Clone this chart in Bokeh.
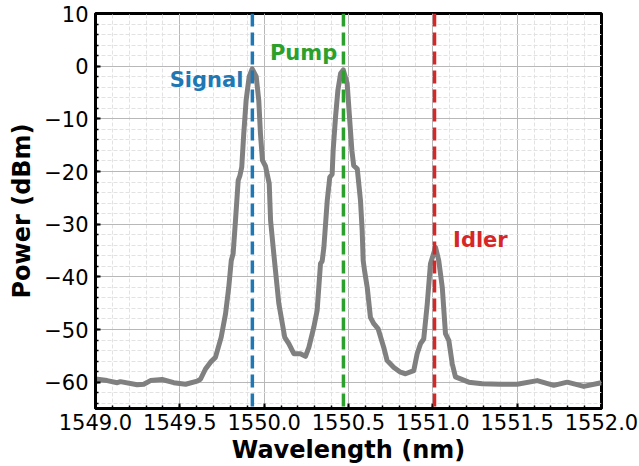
from bokeh.plotting import figure
from bokeh.models import Range1d, SingleIntervalTicker, Span, Label
from bokeh.embed import file_html
from bokeh.resources import INLINE

# ---- data ----
wavelength = [
    1549.000, 1549.069, 1549.129, 1549.148, 1549.247, 1549.286, 1549.326, 1549.395,
    1549.464, 1549.534, 1549.603, 1549.623, 1549.652, 1549.682, 1549.711, 1549.745,
    1549.771, 1549.790, 1549.805, 1549.816, 1549.830, 1549.846, 1549.856, 1549.867,
    1549.879, 1549.893, 1549.911, 1549.929, 1549.953, 1549.968, 1549.978, 1549.990,
    1550.008, 1550.030, 1550.038, 1550.057, 1550.067, 1550.087, 1550.122, 1550.146,
    1550.176, 1550.215, 1550.245, 1550.265, 1550.294, 1550.314, 1550.334, 1550.344,
    1550.354, 1550.374, 1550.389, 1550.403, 1550.409, 1550.423, 1550.437, 1550.453,
    1550.469, 1550.492, 1550.506, 1550.520, 1550.531, 1550.552, 1550.571, 1550.581,
    1550.587, 1550.595, 1550.611, 1550.630, 1550.650, 1550.676, 1550.709, 1550.729,
    1550.769, 1550.808, 1550.838, 1550.887, 1550.907, 1550.927, 1550.946, 1550.967,
    1550.986, 1551.016, 1551.035, 1551.056, 1551.075, 1551.095, 1551.115, 1551.134,
    1551.213, 1551.293, 1551.401, 1551.500, 1551.619, 1551.717, 1551.797, 1551.895,
    1551.984, 1552.000,
]
power_dbm = [
    -59.4, -59.7, -60.1, -59.9, -60.5, -60.4, -59.7, -59.5,
    -60.1, -60.4, -59.8, -59.4, -57.5, -56.2, -55.3, -51.5,
    -47.0, -42.0, -36.9, -35.6, -29.3, -21.7, -20.8, -19.2,
    -12.8, -6.5, -2.0, -0.5, -2.0, -6.5, -12.8, -17.9,
    -19.0, -22.3, -29.3, -35.6, -38.8, -45.1, -51.5, -52.7,
    -54.6, -54.6, -55.1, -53.4, -49.6, -46.4, -37.5, -37.0,
    -34.4, -25.5, -21.1, -20.5, -16.0, -9.7, -4.6, -1.4,
    -0.7, -3.3, -9.7, -16.0, -18.9, -19.5, -25.5, -31.2,
    -36.9, -38.8, -42.0, -47.7, -48.9, -49.9, -53.4, -55.9,
    -57.2, -58.1, -58.4, -57.8, -54.6, -52.7, -51.8, -45.1,
    -37.5, -34.4, -36.9, -42.0, -50.8, -52.1, -56.5, -59.0,
    -60.0, -60.3, -60.4, -60.4, -59.7, -60.6, -60.0, -60.8,
    -60.2, -60.1,
]

marker_names = ["Signal", "Pump", "Idler"]
marker_wavelengths = [1549.93, 1550.47, 1551.01]
marker_colors = ["#1f77b4", "#2ca02c", "#d62728"]

x_tick_values = [1549.0, 1549.5, 1550.0, 1550.5, 1551.0, 1551.5, 1552.0]
x_tick_labels = ["1549.0", "1549.5", "1550.0", "1550.5", "1551.0", "1551.5", "1552.0"]
y_tick_values = [10, 0, -10, -20, -30, -40, -50, -60]
y_tick_labels = ["10", "0", "\u221210", "\u221220", "\u221230", "\u221240", "\u221250", "\u221260"]

x_label = "Wavelength (nm)"
y_label = "Power (dBm)"

X_MIN, X_MAX = 1549.0, 1552.0
Y_MIN, Y_MAX = -65, 10

FONT = "DejaVu Sans"

p = figure(
    width=639, height=466,
    output_backend="svg", toolbar_location=None,
    x_range=Range1d(X_MIN, X_MAX), y_range=Range1d(Y_MIN, Y_MAX),
    min_border_left=95, min_border_right=38, min_border_top=13, min_border_bottom=58,
    background_fill_color="white", border_fill_color="white",
)

# grids
for g in (p.xgrid, p.ygrid):
    g.grid_line_color = "#b8b8b8"
    g.grid_line_width = 1
    g.minor_grid_line_color = "#e2e2e2"
    g.minor_grid_line_width = 1
    g.minor_grid_line_dash = "4 2"

p.xaxis.ticker = SingleIntervalTicker(interval=0.5, num_minor_ticks=5)
p.yaxis.ticker = SingleIntervalTicker(interval=10, num_minor_ticks=5)
p.xgrid.ticker = p.xaxis.ticker
p.ygrid.ticker = p.yaxis.ticker

p.xaxis.major_label_overrides = dict(zip(x_tick_values, x_tick_labels))
p.yaxis.major_label_overrides = dict(zip(y_tick_values, y_tick_labels))

for ax in (p.xaxis, p.yaxis):
    ax.axis_line_color = "black"
    ax.axis_line_width = 3
    ax.major_tick_in = 5
    ax.major_tick_out = 0
    ax.minor_tick_in = 3
    ax.minor_tick_out = 0
    ax.major_tick_line_width = 2
    ax.minor_tick_line_width = 1.5
    ax.major_tick_line_color = "black"
    ax.minor_tick_line_color = "black"
    ax.major_label_text_font = FONT
    ax.major_label_text_font_size = "21px"
    ax.major_label_text_color = "black"
    ax.axis_label_text_font = FONT
    ax.axis_label_text_font_size = "24px"
    ax.axis_label_text_font_style = "bold"
    ax.axis_label_text_color = "black"

p.xaxis.axis_label = x_label
p.yaxis.axis_label = y_label
p.xaxis.major_label_standoff = 5
p.xaxis.axis_label_standoff = 3
p.yaxis.major_label_standoff = 7
p.yaxis.axis_label_standoff = 5

p.outline_line_color = "black"
p.outline_line_width = 3
p.outline_line_alpha = 1

# spectrum
p.line(wavelength, power_dbm, line_color="#808080", line_width=5, line_join="round")

# marker lines
for wl, col in zip(marker_wavelengths, marker_colors):
    p.add_layout(Span(location=wl, dimension="height", line_color=col,
                      line_width=3.5, line_dash="13 6"))

# marker labels
label_specs = [
    (marker_wavelengths[0] - 0.053, -2.6, "right"),
    (marker_wavelengths[1] - 0.037, 2.5, "right"),
    (marker_wavelengths[2] + 0.11, -33.0, "left"),
]
for name, col, (lx, ly, align) in zip(marker_names, marker_colors, label_specs):
    p.add_layout(Label(x=lx, y=ly, text=name, text_color=col, text_align=align,
                       text_baseline="alphabetic", text_font=FONT,
                       text_font_size="21px", text_font_style="bold"))

open("out.html", "w").write(file_html(p, INLINE))
